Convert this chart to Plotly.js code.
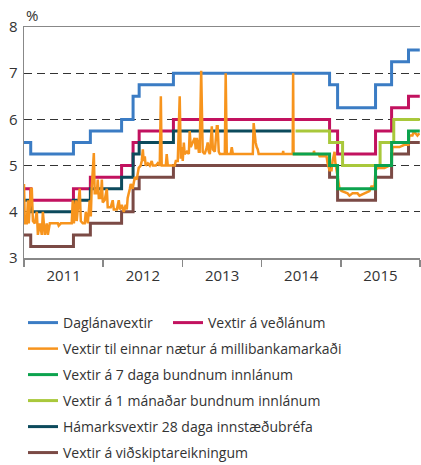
<!DOCTYPE html>
<html>
<head>
<meta charset="utf-8">
<script src="https://cdn.plot.ly/plotly-3.0.1.min.js"></script>
<style>html,body{margin:0;padding:0;background:#fff;}#chart{width:421px;height:465px;}</style>
</head>
<body>
<div id="chart"></div>
<script>
// ---- Data ----
const seriesNames = [
  'Daglánavextir',
  'Vextir á veðlánum',
  'Vextir til einnar nætur á millibankamarkaði',
  'Vextir á 7 daga bundnum innlánum',
  'Vextir á 1 mánaðar bundnum innlánum',
  'Hámarksvextir 28 daga innstæðubréfa',
  'Vextir á viðskiptareikningum'
];

// Policy-rate change dates (step lines)
const policyDates = ['2011-01-01','2011-02-01','2011-08-17','2011-11-03','2012-03-26','2012-05-18','2012-06-15','2012-11-20','2014-11-10','2014-12-17','2015-06-10','2015-08-23','2015-11-09','2015-12-31'];
const daglanavextir   = [5.50,5.25,5.50,5.75,6.00,6.50,6.75,7.00,6.75,6.25,6.75,7.25,7.50,7.50];
const vedlan          = [4.50,4.25,4.50,4.75,5.00,5.50,5.75,6.00,5.75,5.25,5.75,6.25,6.50,6.50];
const vidskiptareikn  = [3.50,3.25,3.50,3.75,4.00,4.50,4.75,5.00,4.75,4.25,4.75,5.25,5.50,5.50];

const cdDates   = ['2011-01-01','2011-02-01','2011-08-17','2011-11-03','2012-03-26','2012-05-18','2012-06-15','2012-11-20','2014-05-18'];
const hamarks28 = [4.25,4.00,4.25,4.50,4.75,5.25,5.50,5.75,5.75];

const week7Dates = ['2014-05-24','2014-11-10','2014-12-17','2015-06-10','2015-08-23','2015-11-09','2015-12-31'];
const week7      = [5.25,5.00,4.50,5.00,5.50,5.75,5.75];

const month1Dates = ['2014-06-06','2014-11-10','2015-01-09','2015-07-01','2015-09-02','2015-12-31'];
const month1      = [5.75,5.50,5.00,5.50,6.00,6.00];

// Overnight interbank rate: time in decimal years, value in %
const overnightYears = [
  2011.000,2011.013,2011.038,2011.050,2011.063,2011.088,2011.101,2011.113,2011.139,2011.164,2011.177,2011.202,
  2011.227,2011.240,2011.265,2011.290,2011.303,2011.328,2011.353,2011.429,2011.441,2011.467,2011.605,2011.618,
  2011.631,2011.656,2011.668,2011.694,2011.706,2011.719,2011.744,2011.769,2011.782,2011.807,2011.832,2011.845,
  2011.857,2011.883,2011.895,2011.921,2011.933,2011.946,2011.971,2011.984,2011.996,2012.021,2012.047,2012.059,
  2012.097,2012.122,2012.135,2012.173,2012.198,2012.211,2012.236,2012.261,2012.286,2012.299,2012.311,2012.337,
  2012.349,2012.374,2012.400,2012.425,2012.450,2012.475,2012.488,2012.501,2012.513,2012.526,2012.538,2012.564,
  2012.589,2012.614,2012.627,2012.665,2012.690,2012.715,2012.728,2012.740,2012.791,2012.803,2012.816,2012.904,
  2012.917,2012.942,2012.967,2012.980,2012.992,2013.005,2013.018,2013.030,2013.056,2013.081,2013.093,2013.106,
  2013.131,2013.156,2013.169,2013.182,2013.194,2013.207,2013.219,2013.238,2013.257,2013.282,2013.308,2013.320,
  2013.333,2013.346,2013.371,2013.384,2013.409,2013.434,2013.446,2013.459,2013.472,2013.535,2013.547,2013.560,
  2013.610,2013.623,2013.636,2013.888,2013.900,2013.913,2013.926,2013.938,2013.951,2013.963,2014.266,2014.272,
  2014.278,2014.392,2014.398,2014.405,2014.657,2014.663,2014.670,2014.720,2014.733,2014.821,2014.834,2014.859,
  2014.884,2014.897,2014.922,2014.934,2014.960,2014.985,2015.010,2015.086,2015.111,2015.149,2015.212,2015.237,
  2015.300,2015.363,2015.388,2015.426,2015.439,2015.464,2015.552,2015.615,2015.641,2015.653,2015.741,2015.805,
  2015.855,2015.868,2015.905,2015.918,2015.943,2015.968,2015.994
];
const overnightValues = [
  4.60,3.75,3.75,4.25,3.75,4.50,4.50,3.80,3.75,4.00,3.50,3.75,
  3.50,4.00,3.50,3.75,3.50,3.75,3.75,3.75,3.70,3.75,3.75,4.25,
  3.75,4.25,3.80,4.30,4.50,3.80,3.75,3.75,4.00,3.75,4.25,3.90,
  4.50,5.27,4.40,4.40,4.70,4.30,4.30,4.70,4.20,4.25,4.50,4.10,
  4.10,4.25,4.05,4.05,4.25,4.05,4.15,4.00,4.15,4.05,4.30,4.50,
  4.60,4.50,4.75,4.70,4.95,5.00,5.10,5.35,5.10,5.20,5.00,5.05,
  5.00,5.10,5.00,5.00,5.05,5.00,6.50,5.00,5.00,5.25,5.00,5.00,
  5.10,5.10,6.50,5.15,5.40,5.10,5.50,5.25,5.30,5.25,5.75,5.40,
  5.50,5.60,5.35,5.60,5.50,5.30,5.30,7.05,5.30,5.25,5.40,5.50,
  5.30,5.25,5.85,5.35,5.30,5.85,5.85,5.30,5.25,5.25,7.00,5.25,
  5.25,5.40,5.25,5.25,5.92,5.60,5.50,5.40,5.35,5.25,5.25,5.32,
  5.25,5.25,7.00,5.25,5.25,5.32,5.25,5.25,5.20,5.20,5.05,4.90,
  4.90,5.10,5.30,5.05,4.80,4.50,4.45,4.40,4.35,4.40,4.40,4.35,
  4.40,4.45,4.55,4.55,4.90,4.95,4.95,5.00,5.00,5.40,5.40,5.45,
  5.45,5.65,5.65,5.72,5.70,5.65,5.70
];

const yTicks = [3,4,5,6,7,8];
const unitLabel = '%';

// ---- Styling ----
const colors = ['#3b7cc4','#c2125f','#f7941d','#0ca34e','#a9c83b','#0c4a5c','#7b4a45'];
const axisFont = {family: 'Open Sans', size: 15, color: '#333'};

function yearToDate(y) {
  const yr = Math.floor(y);
  const s = Date.UTC(yr,0,1), e = Date.UTC(yr+1,0,1);
  return new Date(s + (y - yr) * (e - s)).toISOString().slice(0,10);
}

function stepTrace(x, y, i, legendId) {
  return {x: x, y: y, type: 'scatter', mode: 'lines', name: seriesNames[i],
          line: {color: colors[i], width: 3, shape: 'hv'}, legend: legendId, hoverinfo: 'x+y'};
}

const traces = [
  stepTrace(policyDates, daglanavextir, 0, 'legend'),
  stepTrace(policyDates, vedlan, 1, 'legend2'),
  stepTrace(policyDates, vidskiptareikn, 6, 'legend7'),
  stepTrace(cdDates, hamarks28, 5, 'legend6'),
  {x: overnightYears.map(yearToDate), y: overnightValues, type: 'scatter', mode: 'lines',
   name: seriesNames[2], line: {color: colors[2], width: 2.5}, legend: 'legend3'},
  stepTrace(month1Dates, month1, 4, 'legend5'),
  stepTrace(week7Dates, week7, 3, 'legend4')
];

const rowY = [-0.2814, -0.394, -0.5065, -0.619, -0.7316, -0.844];
function legendAt(x, y) {
  return {x: x, y: y, xanchor: 'left', yanchor: 'middle', orientation: 'v',
          bgcolor: 'rgba(0,0,0,0)', borderwidth: 0, itemwidth: 30,
          font: {family: 'Open Sans', size: 14, color: '#333'}};
}

const layout = {
  width: 421, height: 465,
  margin: {l: 24, r: 1, t: 27, b: 207, pad: 0, autoexpand: false},
  paper_bgcolor: '#fff', plot_bgcolor: '#fff',
  font: {family: 'Open Sans', size: 14, color: '#333'},
  showlegend: true,
  xaxis: {
    type: 'date', range: ['2011-01-01','2016-01-01'],
    tick0: '2011-01-01', dtick: 'M12', tickformat: '%Y', ticklabelmode: 'period',
    ticks: 'outside', ticklen: 7, tickwidth: 1.5, tickcolor: '#888',
    showline: true, linecolor: '#888', linewidth: 1.5, mirror: true,
    showgrid: false, zeroline: false, fixedrange: true,
    ticklabelstandoff: -4,
    tickfont: axisFont
  },
  yaxis: {
    range: [3, 8], tickmode: 'array', tickvals: yTicks, ticktext: yTicks.map(String),
    ticks: '', showline: true, linecolor: '#888', linewidth: 1.5,
    showgrid: true, gridcolor: '#333', gridwidth: 1, griddash: '8px,5px',
    zeroline: false, fixedrange: true,
    ticklabelstandoff: 2,
    tickfont: axisFont
  },
  legend: legendAt(-0.0025, rowY[0]),
  legend2: legendAt(0.3636, rowY[0]),
  legend3: legendAt(-0.0025, rowY[1]),
  legend4: legendAt(-0.0025, rowY[2]),
  legend5: legendAt(-0.0025, rowY[3]),
  legend6: legendAt(-0.0025, rowY[4]),
  legend7: legendAt(-0.0025, rowY[5]),
  annotations: [{
    text: unitLabel, xref: 'paper', yref: 'paper', x: 0, y: 1,
    xanchor: 'left', yanchor: 'bottom', showarrow: false,
    font: {family: 'Open Sans', size: 15, color: '#333'}
  }]
};

Plotly.newPlot('chart', traces, layout, {displayModeBar: false, staticPlot: true});
</script>
</body>
</html>
